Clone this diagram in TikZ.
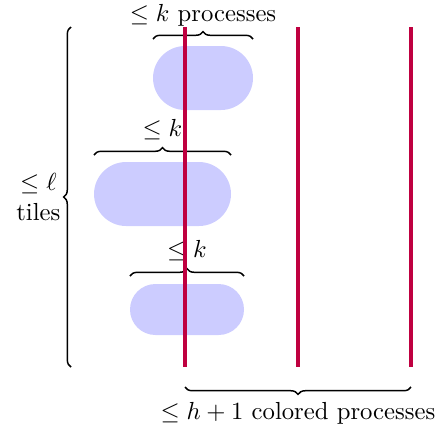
\documentclass[tikz,border=0pt]{standalone}
\usetikzlibrary{decorations.pathreplacing}
\begin{document}
\begin{tikzpicture}[x=0.405pt,y=-0.405pt,
  blob/.style={fill=blue!20, draw=none, inner sep=0pt, rounded corners=#1},
  proc/.style={draw=purple, line width=1.6pt},
  brc/.style={draw, semithick, decorate, decoration={brace, amplitude=3pt}},
  lbl/.style={inner sep=0pt, align=center}]
\useasboundingbox (0,0) rectangle (437,427);
% tiles
\node[blob=13pt, minimum width={100*0.405pt}, minimum height={64*0.405pt}] (t1) at (203,78) {};
\node[blob=13pt, minimum width={137*0.405pt}, minimum height={64*0.405pt}] (t2) at (162.5,194) {};
\node[blob=10.3pt, minimum width={114*0.405pt}, minimum height={51*0.405pt}] (t3) at (187,309.5) {};
% braces above tiles
\coordinate (b1l) at (153,39); \coordinate (b1r) at (253,39);
\draw[brc] (b1l) -- (b1r) node[midway, above=5pt, lbl] (l1) {$\leq k$ processes};
\coordinate (b2l) at (94,155); \coordinate (b2r) at (231,155);
\draw[brc] (b2l) -- (b2r) node[midway, above=6pt, lbl] (l2) {$\leq k$};
\coordinate (b3l) at (130,276); \coordinate (b3r) at (244,276);
\draw[brc] (b3l) -- (b3r) node[midway, above=6pt, lbl] (l3) {$\leq k$};
% left brace
\coordinate (lb) at (71,367); \coordinate (lt) at (71,27);
\draw[brc] (lb) -- (lt) node[midway, left=4pt, lbl] (ll) {$\leq \ell$\\tiles};
% bottom brace
\coordinate (bb1) at (411,387); \coordinate (bb2) at (185,387);
\draw[brc] (bb1) -- (bb2) node[midway, below=6pt, lbl] (lb2) {$\leq h+1$ colored processes};
% processes
\coordinate (p1t) at (185,27); \coordinate (p1b) at (185,367);
\coordinate (p2t) at (298,27); \coordinate (p2b) at (298,367);
\coordinate (p3t) at (411,27); \coordinate (p3b) at (411,367);
\draw[proc] (p1t) -- (p1b);
\draw[proc] (p2t) -- (p2b);
\draw[proc] (p3t) -- (p3b);
\end{tikzpicture}
\end{document}
